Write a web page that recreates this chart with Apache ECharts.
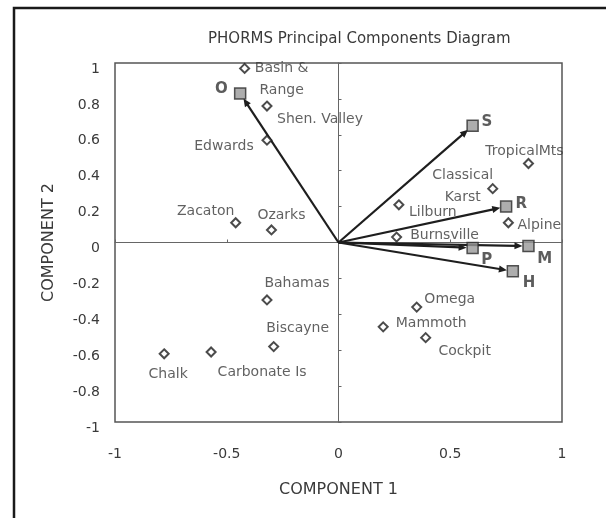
<!DOCTYPE html>
<html>
<head>
<meta charset="utf-8">
<script src="https://cdn.jsdelivr.net/npm/echarts@6/dist/echarts.min.js"></script>
<style>
html,body{margin:0;padding:0;background:#fff;}
#chart{width:606px;height:518px;}
</style>
</head>
<body>
<div id="chart"></div>
<script>
// ---- data ----
const siteNames = ['Basin &\nRange','Shen. Valley','Edwards','Zacaton','Ozarks','TropicalMts','Classical\nKarst','Lilburn','Alpine','Burnsville','Bahamas','Biscayne','Chalk','Carbonate Is','Omega','Mammoth','Cockpit'];
const siteX = [-0.42,-0.32,-0.32,-0.46,-0.30,0.85,0.69,0.27,0.76,0.26,-0.32,-0.29,-0.78,-0.57,0.35,0.20,0.39];
const siteY = [0.97,0.76,0.57,0.11,0.07,0.44,0.30,0.21,0.11,0.03,-0.32,-0.58,-0.62,-0.61,-0.36,-0.47,-0.53];

const vectorNames = ['O','S','R','P','M','H'];
const vectorX = [-0.44,0.60,0.75,0.60,0.85,0.78];
const vectorY = [0.83,0.65,0.20,-0.03,-0.02,-0.16];

const xTicks = [-1,-0.5,0,0.5,1];
const yTicks = [-1,-0.8,-0.6,-0.4,-0.2,0,0.2,0.4,0.6,0.8,1];

// ---- label placement (style: text centre offset in px from marker centre) ----
const siteLabelOffset = {
  'Basin &\nRange':[38,12],'Shen. Valley':[54,14],'Edwards':[-42,7],'Zacaton':[-29,-10],'Ozarks':[11,-14],
  'TropicalMts':[-3,-11],'Classical\nKarst':[-29,-1],'Lilburn':[35,9],'Alpine':[32,4],'Burnsville':[49,-1],
  'Bahamas':[31,-16],'Biscayne':[25,-17],'Chalk':[5,22],'Carbonate Is':[52,21],'Omega':[34,-7],'Mammoth':[49,-3],'Cockpit':[40,15]
};
const vectorLabelOffset = {'O':[-18,-4],'S':[15,-3],'R':[16,-2],'P':[15,13],'M':[17,14],'H':[17,13]};

const FONT = 'DejaVu Sans';
const TXT = '#3a3a3a';
const DIAMOND = 9, SQUARE = 11;

const chart = echarts.init(document.getElementById('chart'), null, {renderer:'canvas'});

const siteData = siteNames.map((n,i)=>{
  const o = siteLabelOffset[n];
  return {value:[siteX[i],siteY[i]], name:n,
    label:{position:[DIAMOND/2+o[0], DIAMOND/2+o[1]]}};
});
const vecData = vectorNames.map((n,i)=>{
  const o = vectorLabelOffset[n];
  return {value:[vectorX[i],vectorY[i]], name:n,
    label:{position:[SQUARE/2+o[0], SQUARE/2+o[1]]}};
});
const arrowData = vectorNames.map((n,i)=>({value:[vectorX[i],vectorY[i]], name:n}));

const option = {
  animation:false,
  backgroundColor:'#fff',
  title:{
    text:'PHORMS Principal Components Diagram',
    left:203, top:27,
    textStyle:{fontFamily:FONT,fontSize:15,fontWeight:'normal',color:TXT}
  },
  graphic:[{
    type:'polyline', silent:true,
    shape:{points:[[14,520],[14,8],[610,8]]},
    style:{stroke:'#1a1a1a',lineWidth:2.5,fill:null}
  }],
  grid:{left:115,right:44,top:63,bottom:96,show:true,borderColor:'#555',borderWidth:1.5,backgroundColor:'transparent'},
  xAxis:[{
    type:'value',min:-1,max:1,interval:0.5,position:'bottom',
    axisLine:{show:false},axisTick:{show:false},splitLine:{show:false},
    axisLabel:{margin:25,fontFamily:FONT,fontSize:14,color:TXT,
      customValues:xTicks, formatter:v=>String(v)},
    name:'COMPONENT 1',nameLocation:'middle',nameGap:60,
    nameTextStyle:{fontFamily:FONT,fontSize:16,color:TXT}
  },{
    type:'value',min:-1,max:1,interval:0.5,position:'top',
    axisLine:{show:true,onZero:true,lineStyle:{color:'#666',width:1}},
    axisTick:{show:true,length:3,inside:false,lineStyle:{color:'#666'}},
    axisLabel:{show:false},splitLine:{show:false}
  }],
  yAxis:[{
    type:'value',min:-1,max:1,interval:0.2,position:'left',
    axisLine:{show:false},axisTick:{show:false},splitLine:{show:false},
    axisLabel:{margin:15,fontFamily:FONT,fontSize:14,color:TXT,verticalAlign:'top',lineHeight:12,
      customValues:yTicks, formatter:v=>String(Math.round(v*10)/10)},
    name:'COMPONENT 2',nameLocation:'middle',nameGap:58,nameRotate:90,
    nameTextStyle:{fontFamily:FONT,fontSize:16,color:TXT}
  },{
    type:'value',min:-1,max:1,interval:0.2,position:'left',
    axisLine:{show:true,onZero:true,lineStyle:{color:'#666',width:1}},
    axisTick:{show:true,length:3,inside:true,lineStyle:{color:'#666'}},
    axisLabel:{show:false},splitLine:{show:false}
  }],
  series:[{
    type:'custom', xAxisIndex:0, yAxisIndex:0, z:3,
    data:arrowData,
    renderItem:function(params, api){
      const p0 = api.coord([0,0]);
      const p1 = api.coord([api.value(0), api.value(1)]);
      const dx = p1[0]-p0[0], dy = p1[1]-p0[1];
      const len = Math.hypot(dx,dy), ux = dx/len, uy = dy/len;
      const end = [p1[0]-ux*6, p1[1]-uy*6];
      const head = 8, w = 3.5;
      const base = [end[0]-ux*head, end[1]-uy*head];
      return {type:'group',children:[
        {type:'line',shape:{x1:p0[0],y1:p0[1],x2:base[0]+ux*2,y2:base[1]+uy*2},style:{stroke:'#1e1e1e',lineWidth:2.2}},
        {type:'polygon',shape:{points:[end,[base[0]-uy*w,base[1]+ux*w],[base[0]+uy*w,base[1]-ux*w]]},style:{fill:'#1e1e1e'}}
      ]};
    }
  },{
    type:'scatter', xAxisIndex:0, yAxisIndex:0, z:4,
    symbol:'rect', symbolSize:SQUARE,
    itemStyle:{color:'#999',borderColor:'#2a2a2a',borderWidth:1.5},
    label:{show:true,align:'center',verticalAlign:'middle',
      formatter:p=>p.name,fontFamily:FONT,fontSize:15,fontWeight:'bold',color:'#333'},
    labelLayout:{hideOverlap:false},
    data:vecData
  },{
    type:'scatter', xAxisIndex:0, yAxisIndex:0, z:5,
    symbol:'diamond', symbolSize:DIAMOND,
    itemStyle:{color:'#fff',borderColor:'#1e1e1e',borderWidth:2},
    label:{show:true,align:'center',verticalAlign:'middle',
      formatter:p=>p.name,fontFamily:FONT,fontSize:14,color:TXT,lineHeight:22},
    labelLayout:{hideOverlap:false},
    data:siteData
  }]
};
chart.setOption(option);
</script>
</body>
</html>
